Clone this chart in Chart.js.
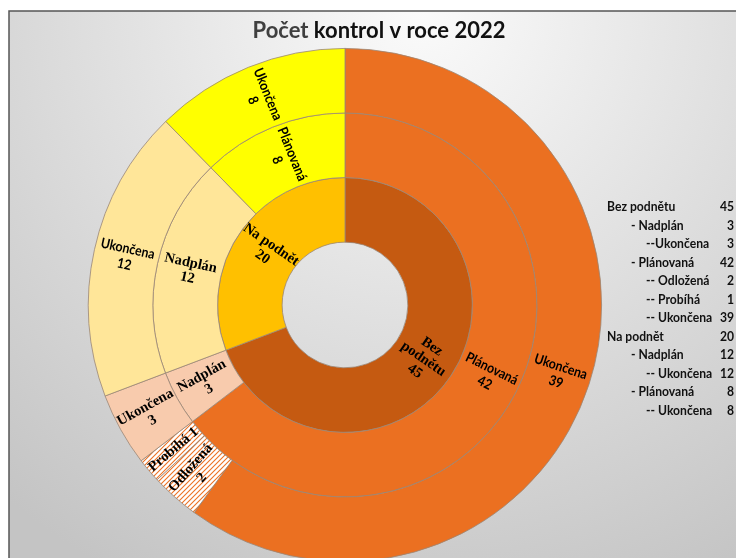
<!DOCTYPE html>
<html>
<head>
<meta charset="utf-8">
<script src="https://cdn.jsdelivr.net/npm/chart.js@4.4.0/dist/chart.umd.min.js"></script>
<style>
html,body{margin:0;padding:0;overflow:hidden;background:#fff;}
#wrap{position:absolute;left:0;top:0;width:736px;height:575px;}
</style>
</head>
<body>
<div id="wrap"><canvas id="c" width="736" height="575"></canvas></div>
<script>
// data
var rootLabels = ['Bez podnětu', 'Na podnět'];
var rootValues = [45, 20];
var midLabels = ['Plánovaná', 'Nadplán', 'Nadplán', 'Plánovaná'];
var midValues = [42, 3, 12, 8];
var outerLabels = ['Ukončena', 'Odložená', 'Probíhá', 'Ukončena', 'Ukončena', 'Ukončena'];
var outerValues = [39, 2, 1, 3, 12, 8];

var legendLabels = ['Bez podnětu', '- Nadplán', '--Ukončena', '- Plánovaná', '-- Odložená', '-- Probíhá', '-- Ukončena',
                    'Na podnět', '- Nadplán', '-- Ukončena', '- Plánovaná', '-- Ukončena'];
var legendValues = [45, 3, 3, 42, 2, 1, 39, 20, 12, 12, 8, 8];
var legendLevels = [0, 1, 2, 1, 2, 2, 2, 0, 1, 2, 1, 2];

// hatch for the small segments
function hatch(){
    var p = document.createElement('canvas');
    p.width = 5; p.height = 5;
    var g = p.getContext('2d');
    g.fillStyle = '#fff';
    g.fillRect(0,0,5,5);
    g.strokeStyle = '#EB7224';
    g.lineWidth = 1.1;
    g.beginPath();
    g.moveTo(-1,6); g.lineTo(6,-1);
    g.moveTo(-1,1); g.lineTo(1,-1);
    g.moveTo(4,6); g.lineTo(6,4);
    g.stroke();
    return document.getElementById('c').getContext('2d').createPattern(p,'repeat');
}
var hp = hatch();

var sans = 'Lato, "Open Sans", sans-serif';
var serif = '"Liberation Serif", "DejaVu Serif", serif';
var squeeze = 0.88; // makes Lato look a bit more like Calibri

function narrowText(ctx, t, x, y){
    ctx.save();
    ctx.translate(x, y);
    ctx.scale(squeeze, 1);
    ctx.fillText(t, 0, 0);
    ctx.restore();
}

var bgPlugin = {
    id: 'bg',
    beforeDraw: function(chart){
        var ctx = chart.ctx;
        ctx.save();
        var g = ctx.createRadialGradient(420, 10, 0, 420, 10, 640);
        g.addColorStop(0, '#fbfbfb');
        g.addColorStop(1, '#c4c4c4');
        ctx.fillStyle = g;
        ctx.fillRect(9, 11, 800, 700);
        ctx.strokeStyle = '#555';
        ctx.lineWidth = 1.5;
        ctx.strokeRect(9, 11, 800, 700);
        ctx.restore();
    },
    afterDraw: function(chart){
        var ctx = chart.ctx;
        ctx.save();
        // title
        ctx.font = 'bold 22px ' + sans;
        ctx.textBaseline = 'middle';
        var a = 'Počet ', b = 'kontrol v roce 2022';
        var w = ctx.measureText(a).width + ctx.measureText(b).width;
        var x0 = 379 - w/2;
        ctx.fillStyle = '#3f3f3f';
        ctx.fillText(a, x0, 31);
        ctx.fillStyle = '#111';
        ctx.fillText(b, x0 + ctx.measureText(a).width, 31);
        // legend table
        ctx.font = 'bold 13.8px ' + sans;
        var indent = [607, 631, 646];
        for (var i = 0; i < legendLabels.length; i++){
            var y = 207 + i*18.5;
            ctx.textAlign = 'left';
            narrowText(ctx, legendLabels[i], indent[legendLevels[i]], y);
            ctx.textAlign = 'right';
            narrowText(ctx, String(legendValues[i]), 734, y);
        }
        // ring labels
        chart.data.datasets.forEach(function(ds, di){
            var meta = chart.getDatasetMeta(di);
            meta.data.forEach(function(arc, j){
                var p = arc.getProps(['x','y','startAngle','endAngle','innerRadius','outerRadius'], true);
                var a = (p.startAngle + p.endAngle)/2;
                var r = (p.innerRadius + p.outerRadius)/2;
                var cx = p.x + Math.cos(a)*r, cy = p.y + Math.sin(a)*r;
                var rot = a;
                if (Math.cos(a) < 0) rot = a + Math.PI;
                var lines;
                if (ds.inlineValue && ds.inlineValue[j]) {
                    lines = [ds.labels[j] + ' ' + ds.data[j]];
                } else {
                    lines = (ds.labelLines && ds.labelLines[j]) ? ds.labelLines[j].slice() : [ds.labels[j]];
                    lines.push(String(ds.data[j]));
                }
                var isSerif = ds.fonts[j] === serif;
                ctx.save();
                ctx.translate(cx, cy);
                ctx.rotate(rot);
                if (!isSerif) ctx.scale(squeeze, 1);
                ctx.font = 'bold ' + (isSerif ? '14.5px ' : '14px ') + ds.fonts[j];
                ctx.fillStyle = '#000';
                ctx.textAlign = 'center';
                ctx.textBaseline = 'middle';
                var lh = isSerif ? 15 : 16;
                var top = -(lines.length-1)*lh/2;
                lines.forEach(function(t, k){ ctx.fillText(t, 0, top + k*lh); });
                ctx.restore();
            });
        });
        ctx.restore();
    }
};

new Chart(document.getElementById('c'), {
    type: 'doughnut',
    data: {
        datasets: [
            {
                labels: outerLabels,
                data: outerValues,
                backgroundColor: ['#EB7021', hp, hp, '#F8CBAD', '#FFE699', '#FFFF00'],
                fonts: [sans, serif, serif, serif, sans, sans],
                inlineValue: [false, false, true, false, false, false],
                borderColor: '#9a8676',
                borderWidth: 0.8
            },
            {
                labels: midLabels,
                data: midValues,
                backgroundColor: ['#EB7021', '#F8CBAD', '#FFE699', '#FFFF00'],
                fonts: [sans, serif, serif, sans],
                borderColor: '#9a8676',
                borderWidth: 0.8
            },
            {
                labels: rootLabels,
                data: rootValues,
                labelLines: [['Bez', 'podnětu'], ['Na podnět']],
                backgroundColor: ['#C55A11', '#FFC000'],
                fonts: [serif, serif],
                borderColor: '#9a8676',
                borderWidth: 0.8
            }
        ]
    },
    options: {
        responsive: false,
        animation: false,
        cutout: '24.5%',
        layout: { padding: { left: 88, right: 134, top: 48, bottom: 13 } },
        plugins: {
            legend: { display: false },
            tooltip: { enabled: false }
        },
        hover: { mode: null }
    },
    plugins: [bgPlugin]
});
</script>
</body>
</html>
